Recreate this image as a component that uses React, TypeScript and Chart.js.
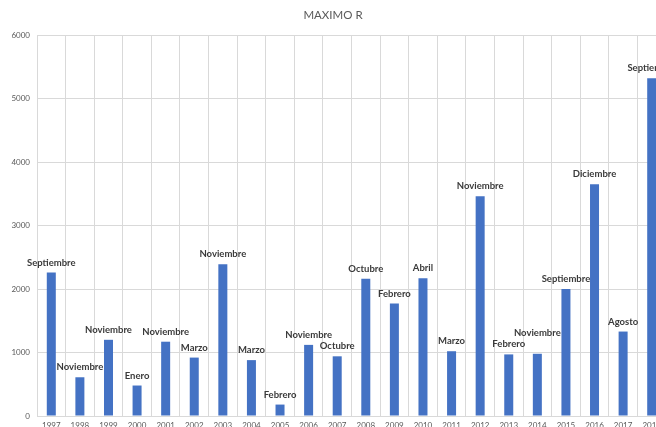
import React, { useEffect, useRef } from "react";
import { Chart, registerables } from "chart.js";

Chart.register(...registerables);

// Yearly maximum and the month in which it occurred
const years = [
  "1997", "1998", "1999", "2000", "2001", "2002", "2003", "2004", "2005", "2006", "2007",
  "2008", "2009", "2010", "2011", "2012", "2013", "2014", "2015", "2016", "2017", "2018",
];
const maxValues = [
  2260, 610, 1200, 480, 1170, 920, 2390, 880, 180, 1120, 940,
  2160, 1770, 2170, 1020, 3460, 970, 980, 2000, 3650, 1330, 5320,
];
const peakMonths = [
  "Septiembre", "Noviembre", "Noviembre", "Enero", "Noviembre", "Marzo", "Noviembre", "Marzo",
  "Febrero", "Noviembre", "Octubre", "Octubre", "Febrero", "Abril", "Marzo", "Noviembre",
  "Febrero", "Noviembre", "Septiembre", "Diciembre", "Agosto", "Septiembre",
];
const yTicks = [0, 1000, 2000, 3000, 4000, 5000, 6000];

const CANVAS_W = 684;
const CANVAS_H = 440;
const PLOT_BOTTOM = 416;

// Month name drawn above every bar; a label that would collide with an
// earlier one is lifted above it.
const monthLabels = {
  id: "monthLabels",
  afterDatasetsDraw(chart: any) {
    const ctx = chart.ctx as CanvasRenderingContext2D;
    const meta = chart.getDatasetMeta(0);
    ctx.save();
    ctx.font = "bold 9.5px Lato";
    ctx.fillStyle = "#3a3a3a";
    ctx.textAlign = "center";
    ctx.textBaseline = "middle";
    const placed: { l: number; r: number; t: number; b: number }[] = [];
    const h = 9;
    meta.data.forEach((bar: any, i: number) => {
      const text = peakMonths[i];
      const w = ctx.measureText(text).width;
      const l = bar.x - w / 2;
      const r = bar.x + w / 2;
      let cy = bar.y - 10;
      let moved = true;
      while (moved) {
        moved = false;
        for (const p of placed) {
          if (l < p.r && r > p.l && cy - h / 2 < p.b && cy + h / 2 > p.t) {
            cy = p.t - h / 2 - 2;
            moved = true;
          }
        }
      }
      placed.push({ l, r, t: cy - h / 2, b: cy + h / 2 });
      ctx.fillText(text, bar.x, cy);
    });
    ctx.restore();
  },
};

export default function App() {
  const canvasRef = useRef<HTMLCanvasElement | null>(null);

  useEffect(() => {
    if (!canvasRef.current) return;
    const chart = new Chart(canvasRef.current, {
      type: "bar",
      data: {
        labels: years,
        datasets: [
          {
            data: maxValues,
            backgroundColor: "#4472C4",
            borderWidth: 0,
            barPercentage: 0.315,
            categoryPercentage: 1,
          },
        ],
      },
      options: {
        responsive: false,
        animation: false,
        devicePixelRatio: 1,
        layout: { padding: { left: 0, right: CANVAS_W - 666, top: 0, bottom: 0 } },
        plugins: {
          legend: { display: false },
          tooltip: { enabled: false },
          title: {
            display: true,
            text: "MAXIMO R",
            color: "#595959",
            font: { family: "Lato", size: 11.5, weight: "normal" },
            padding: { top: 8.6, bottom: 12.6 },
          },
        },
        scales: {
          x: {
            grid: { color: "#d9d9d9", drawTicks: false, offset: true },
            border: { color: "#d9d9d9" },
            ticks: {
              color: "#595959",
              font: { family: "Lato", size: 8 },
              padding: 5,
              maxRotation: 0,
              autoSkip: false,
            },
            afterFit: (axis: any) => {
              axis.height = CANVAS_H - PLOT_BOTTOM;
            },
          },
          y: {
            min: 0,
            max: 6000,
            grid: { color: "#d9d9d9", drawTicks: false },
            border: { display: false },
            ticks: {
              color: "#595959",
              font: { family: "Lato", size: 8 },
              padding: 7,
              callback: (value: any) => String(value),
            },
            afterBuildTicks: (axis: any) => {
              axis.ticks = yTicks.map((v) => ({ value: v }));
            },
            afterFit: (axis: any) => {
              axis.width = 37;
            },
          },
        },
      },
      plugins: [monthLabels],
    });
    return () => chart.destroy();
  }, []);

  return (
    <div
      style={{
        position: "fixed",
        left: 0,
        top: 0,
        width: 656,
        height: 427,
        overflow: "hidden",
        background: "#ffffff",
      }}
    >
      <canvas
        ref={canvasRef}
        width={CANVAS_W}
        height={CANVAS_H}
        style={{ display: "block", width: CANVAS_W, height: CANVAS_H }}
      />
    </div>
  );
}
